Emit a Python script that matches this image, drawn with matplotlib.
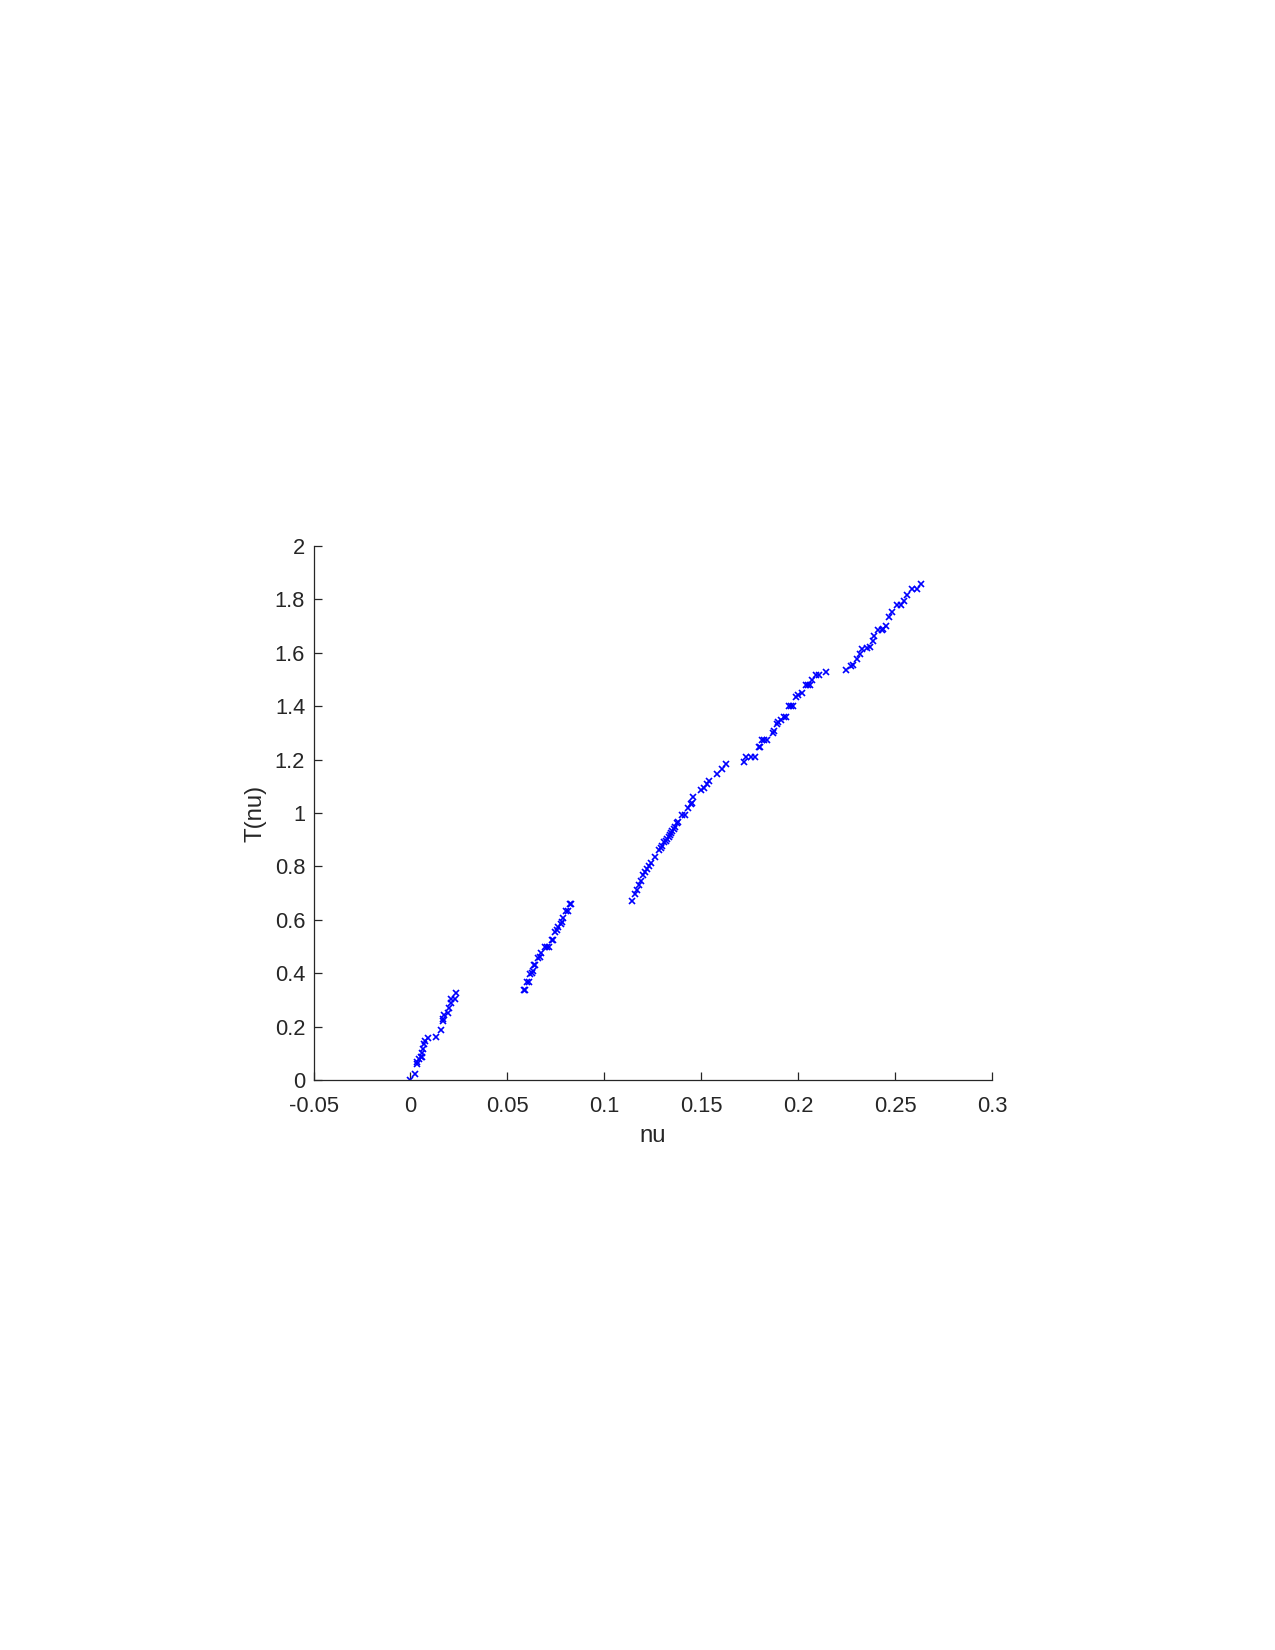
import matplotlib
matplotlib.use("Agg")
import matplotlib.pyplot as plt
import numpy as np

# cluster data
nu_1 = [0.0, 0.0024, 0.0032, 0.0036, 0.0046, 0.0053, 0.0058, 0.0062, 0.0067, 0.0072, 0.0077,
        0.0093, 0.0132, 0.0158, 0.0166, 0.0170, 0.0175, 0.0196, 0.0201, 0.0208, 0.0211, 0.0230, 0.0237]
T_1 = [0.0, 0.024, 0.059, 0.066, 0.078, 0.086, 0.088, 0.100, 0.117, 0.134, 0.147,
       0.157, 0.161, 0.186, 0.221, 0.230, 0.245, 0.250, 0.271, 0.288, 0.302, 0.305, 0.324]

nu_2 = [0.0585, 0.0592, 0.0602, 0.0610, 0.0618, 0.0625, 0.0633, 0.0639, 0.0645, 0.0658, 0.0666,
        0.0674, 0.0693, 0.0705, 0.0717, 0.0730, 0.0738, 0.0747, 0.0755, 0.0763, 0.0775, 0.0783,
        0.0789, 0.0803, 0.0812, 0.0822, 0.0829]
T_2 = [0.336, 0.336, 0.366, 0.366, 0.398, 0.400, 0.410, 0.429, 0.431, 0.456, 0.460,
       0.474, 0.499, 0.499, 0.499, 0.524, 0.524, 0.554, 0.560, 0.572, 0.585, 0.590,
       0.607, 0.634, 0.634, 0.660, 0.660]

nu_3 = [0.1145, 0.1159, 0.1168, 0.1181, 0.1190, 0.1201, 0.1210, 0.1222, 0.1229, 0.1239, 0.1263,
        0.1284, 0.1292, 0.1298, 0.1310, 0.1316, 0.1322, 0.1332, 0.1339, 0.1345, 0.1351, 0.1358,
        0.1365, 0.1377, 0.1382, 0.1399, 0.1417, 0.1434, 0.1446, 0.1450, 0.1459, 0.1499, 0.1514,
        0.1528, 0.1542, 0.1583, 0.1606, 0.1626]
T_3 = [0.671, 0.695, 0.711, 0.732, 0.745, 0.766, 0.779, 0.790, 0.801, 0.813, 0.834,
       0.861, 0.870, 0.876, 0.891, 0.895, 0.901, 0.910, 0.916, 0.925, 0.932, 0.940,
       0.947, 0.963, 0.966, 0.994, 0.994, 1.017, 1.032, 1.036, 1.061, 1.085, 1.094,
       1.109, 1.119, 1.147, 1.166, 1.185]

nu_4 = [0.1722, 0.1730, 0.1755, 0.1778, 0.1796, 0.1804, 0.1815, 0.1825, 0.1840, 0.1868, 0.1876,
        0.1890, 0.1898, 0.1909, 0.1925, 0.1938, 0.1952, 0.1962, 0.1975, 0.1990, 0.1998, 0.2018,
        0.2040, 0.2050, 0.2060, 0.2073, 0.2092, 0.2109, 0.2142]
T_4 = [1.190, 1.210, 1.210, 1.210, 1.246, 1.246, 1.275, 1.275, 1.275, 1.300, 1.306,
       1.335, 1.340, 1.350, 1.359, 1.359, 1.400, 1.400, 1.400, 1.436, 1.441, 1.448,
       1.478, 1.478, 1.481, 1.497, 1.515, 1.515, 1.527]

nu_5 = [0.2247, 0.2271, 0.2285, 0.2305, 0.2319, 0.2331, 0.2353, 0.2370, 0.2385, 0.2392, 0.2410,
        0.2431, 0.2440, 0.2453, 0.2470, 0.2486, 0.2508, 0.2529, 0.2546, 0.2560, 0.2586, 0.2612,
        0.2632]
T_5 = [1.534, 1.552, 1.553, 1.575, 1.594, 1.615, 1.617, 1.622, 1.643, 1.662, 1.685,
       1.687, 1.690, 1.700, 1.733, 1.753, 1.778, 1.778, 1.793, 1.815, 1.840, 1.838,
       1.858]

x_ticks = [-0.05, 0, 0.05, 0.1, 0.15, 0.2, 0.25, 0.3]
x_ticklabels = ["-0.05", "0", "0.05", "0.1", "0.15", "0.2", "0.25", "0.3"]
y_ticks = [0, 0.2, 0.4, 0.6, 0.8, 1, 1.2, 1.4, 1.6, 1.8, 2]
y_ticklabels = ["0", "0.2", "0.4", "0.6", "0.8", "1", "1.2", "1.4", "1.6", "1.8", "2"]

plt.rcParams['font.family'] = ['Liberation Sans', 'DejaVu Sans']

fig = plt.figure(figsize=(8.5, 11), dpi=150)
ax = fig.add_axes([313.5 / 1275, 1 - 1080 / 1650, (992 - 313.5) / 1275, (1080 - 546) / 1650])

nu_all = nu_1 + nu_2 + nu_3 + nu_4 + nu_5
T_all = T_1 + T_2 + T_3 + T_4 + T_5
ax.plot(nu_all, T_all, linestyle='none', marker='x', color='#0000ff',
        markersize=2.8, markeredgewidth=0.8)

ax.set_xlim(-0.05, 0.3)
ax.set_ylim(0, 2)
ax.set_xticks(x_ticks)
ax.set_xticklabels(x_ticklabels)
ax.set_yticks(y_ticks)
ax.set_yticklabels(y_ticklabels)
ax.spines['top'].set_visible(False)
ax.spines['right'].set_visible(False)
for s in ['left', 'bottom']:
    ax.spines[s].set_linewidth(0.6)
    ax.spines[s].set_color('#262626')
ax.tick_params(direction='in', length=4, width=0.6, labelsize=10.5, colors='#262626', pad=4)
ax.tick_params(axis='x', pad=7.5)
ax.set_xlabel('nu', fontsize=11.5, color='#262626', labelpad=4)
ax.set_ylabel('T(nu)', fontsize=11.5, color='#262626', labelpad=4)

fig.savefig('out.png', dpi=150)
